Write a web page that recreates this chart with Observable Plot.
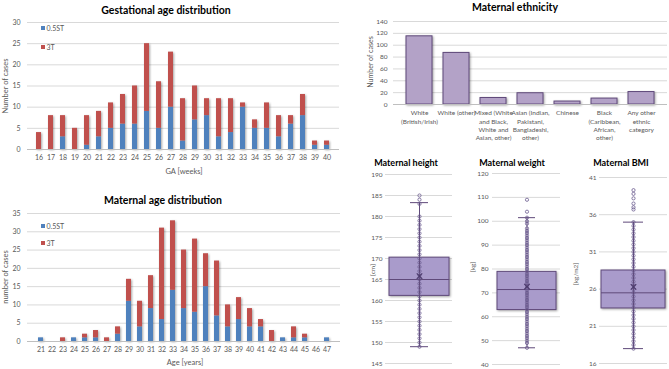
<!DOCTYPE html>
<html><head><meta charset="utf-8">
<script src="https://cdn.jsdelivr.net/npm/d3@7"></script>
<script src="https://cdn.jsdelivr.net/npm/@observablehq/plot@0.6"></script>
<style>
body{margin:0;background:#fff;}
#fig{position:relative;width:669px;height:369px;overflow:hidden;font-family:Lato,"Liberation Sans",sans-serif;color:#595959;background:#fff;}
#fig svg{position:absolute;}
.t{position:absolute;transform:translate(-50%,-50%);white-space:nowrap;line-height:1;}
.title{font-weight:bold;color:#000;}
.rot{transform:translate(-50%,-50%) rotate(-90deg);}
.sw{position:absolute;width:4px;height:4px;}
</style></head><body><div id="fig"></div><script>
// ---- gestational age (weeks) ----
const gaWeeks = [16,17,18,19,20,21,22,23,24,25,26,27,28,29,30,31,32,33,34,35,36,37,38,39,40];
const gaCount05 = [0,0,3,0,1,3,5,6,6,9,5,10,2,7,8,3,4,10,5,5,3,6,8,1,1];
const gaCount3  = [4,8,5,5,7,6,6,7,9,16,11,13,10,8,4,9,8,1,2,6,5,2,5,1,1];
const gaTicks = [0,5,10,15,20,25,30];

// ---- maternal age (years) ----
const ageYears = [21,22,23,24,25,26,27,28,29,30,31,32,33,34,35,36,37,38,39,40,41,42,43,44,45,46,47];
const ageCount05 = [1,0,0,1,1,1,0,2,11,4,9,6,14,9,8,15,7,4,6,4,4,0,1,1,1,0,1];
const ageCount3  = [0,0,1,0,1,2,1,2,6,7,9,25,19,16,20,9,15,6,6,5,2,3,0,3,1,0,0];
const ageTicks = [0,5,10,15,20,25,30,35];

const seriesNames = ["0.5ST", "3T"];
const seriesColors = ["#4F81BD", "#C0504D"];

// ---- maternal ethnicity ----
const ethnicGroups = [
  "White\n(British/Irish)",
  "White (other)",
  "Mixed (White\nand Black,\nWhite and\nAsian, other)",
  "Asian (Indian,\nPakistani,\nBangladeshi,\nother)",
  "Chinese",
  "Black\n(Caribbean,\nAfrican,\nother)",
  "Any other\nethnic\ncategory"
];
const ethnicCounts = [115, 87, 11, 19, 5, 10, 21];
const ethnicTicks = [0,20,40,60,80,100,120,140];

// ---- maternal height / weight / BMI summaries ----
const boxNames  = ["Maternal height", "Maternal weight", "Maternal BMI"];
const boxUnits  = ["[cm]", "[kg]", "[kg/m2]"];
const boxLow    = [149, 47, 18];
const boxQ1     = [161.1, 62.8, 23.4];
const boxMedian = [165, 71.4, 25.5];
const boxQ3     = [170.2, 78.8, 28.5];
const boxHigh   = [183.3, 101.5, 35];
const boxMean   = [165.8, 72.6, 26.3];
const heightTicks = [145,150,155,160,165,170,175,180,185,190];
const weightTicks = [40,50,60,70,80,90,100,110,120];
const bmiTicks = [16,21,26,31,36,41];
const heightValues = [149,150,151,152,153,154,155,156,157,158,159,160,161,162,163,164,165,166,167,168,169,170,171,172,173,174,175,176,177,178,179,180,183,184,185];
const weightValues = [47,49,50,51,52,53,54,55,56,57,58,59,60,61,62,63,64,65,66,67,68,69,70,71,72,73,74,75,76,77,78,79,80,81,82,83,84,85,86,87,88,89,90,91,92,93,94,95,96,97,99,100,101.5,104,109];
const bmiValues = [18,18.5,19,19.5,20,20.5,21,21.5,22,22.5,23,23.5,24,24.5,25,25.5,26,26.5,27,27.5,28,28.5,29,29.5,30,30.5,31,31.5,32,32.5,33,33.5,34,34.5,35,36.7,37,37.5,38.2,38.8,39.3];

const fig = document.getElementById("fig");
const FONT = "Lato, 'Liberation Sans', sans-serif";
const GRID = "#d9d9d9";
const TXT = "#595959";
const PURPLE = "#B3A2C7";
const PURPLE_DARK = "#5F497A";

function addText(txt, x, y, size, cls = "") {
  const d = document.createElement("div");
  d.className = "t " + cls;
  d.textContent = txt;
  d.style.left = x + "px";
  d.style.top = y + "px";
  d.style.fontSize = size + "px";
  fig.appendChild(d);
}
function place(svg, left, top) {
  svg.style.left = left + "px";
  svg.style.top = top + "px";
  fig.appendChild(svg);
}
function shadow(svg, label) {
  d3.select(svg).selectAll(`g[aria-label='${label}']`)
    .style("filter", "drop-shadow(1.2px 1.2px 0.8px rgba(0,0,0,0.35))");
}

// stacked 0.5ST / 3T bar chart
function stacked(cats, lo, hi, ticks, g) {
  const rows = [];
  cats.forEach((c, i) => {
    rows.push({cat: c, series: seriesNames[0], n: lo[i]});
    rows.push({cat: c, series: seriesNames[1], n: hi[i]});
  });
  const svg = Plot.plot({
    width: g.width, height: g.height,
    marginTop: g.mt, marginBottom: g.mb, marginLeft: g.ml, marginRight: g.mr,
    style: {fontFamily: FONT, fontSize: "7px", background: "transparent", overflow: "visible"},
    x: {type: "band", domain: cats, padding: 0.55, axis: null},
    y: {domain: [ticks[0], ticks[ticks.length - 1]], axis: null},
    color: {domain: seriesNames, range: seriesColors},
    marks: [
      Plot.gridY(ticks, {stroke: GRID, strokeOpacity: 1}),
      Plot.barY(rows.filter(d => d.n > 0), {x: "cat", y: "n", fill: "series"}),
      Plot.ruleY([0], {stroke: "#bfbfbf"}),
      Plot.axisX({tickSize: 0, tickPadding: 6, fill: TXT, fontSize: 7, label: null}),
      Plot.axisY(ticks, {tickSize: 0, tickPadding: 7, fill: TXT, fontSize: 7, label: null})
    ]
  });
  shadow(svg, "bar");
  return svg;
}

function legend(x, y1, y2) {
  [[y1, 0], [y2, 1]].forEach(([y, i]) => {
    const s = document.createElement("div");
    s.className = "sw";
    s.style.left = x + "px";
    s.style.top = (y - 2) + "px";
    s.style.background = seriesColors[i];
    fig.appendChild(s);
    const t = document.createElement("div");
    t.className = "t";
    t.textContent = seriesNames[i];
    t.style.fontSize = "7px";
    t.style.left = (x + 5.5) + "px";
    t.style.top = y + "px";
    t.style.transform = "translate(0,-50%)";
    fig.appendChild(t);
  });
}

// Gestational age panel
place(stacked(gaWeeks, gaCount05, gaCount3, gaTicks,
  {width: 340, height: 185, mt: 22, mb: 36, ml: 27, mr: 1}), 0, 0);
addText("Gestational age distribution", 166, 10, 10.5, "title");
addText("Number of cases", 6, 86, 7.5, "rot");
addText("GA [weeks]", 184, 172, 7.5);
legend(41, 28, 46.7);

// Maternal age panel
place(stacked(ageYears, ageCount05, ageCount3, ageTicks,
  {width: 340, height: 184, mt: 28, mb: 28, ml: 27, mr: 0}), 0, 185);
addText("Maternal age distribution", 163, 200, 10.5, "title");
addText("number of cases", 6, 277, 7.5, "rot");
addText("Age [years]", 185, 363, 7.5);
legend(41, 226, 243);

// Maternal ethnicity panel
{
  const rows = ethnicGroups.map((g, i) => ({group: g, n: ethnicCounts[i]}));
  const svg = Plot.plot({
    width: 329, height: 150,
    marginTop: 21, marginBottom: 46, marginLeft: 53, marginRight: 2,
    style: {fontFamily: FONT, fontSize: "6.5px", background: "transparent", overflow: "visible"},
    x: {type: "band", domain: ethnicGroups, padding: 0.31, axis: null},
    y: {domain: [0, 140], axis: null},
    marks: [
      Plot.gridY(ethnicTicks, {stroke: GRID, strokeOpacity: 1}),
      Plot.barY(rows, {x: "group", y: "n", fill: PURPLE, stroke: PURPLE_DARK, strokeWidth: 1}),
      Plot.ruleY([0], {stroke: "#bfbfbf"}),
      Plot.axisX({tickSize: 0, tickPadding: 5, fill: TXT, fontSize: 6.5, lineHeight: 1.28, label: null}),
      Plot.axisY(ethnicTicks, {tickSize: 0, tickPadding: 6, fill: TXT, fontSize: 6.5, label: null})
    ]
  });
  shadow(svg, "bar");
  place(svg, 340, 0);
  addText("Maternal ethnicity", 515, 7, 10.5, "title");
  addText("Number of cases", 370, 62, 7, "rot");
}

// Box plots for height, weight and BMI
function boxPanel(i, values, ticks, g) {
  const name = boxNames[i];
  const s = {name, low: boxLow[i], q1: boxQ1[i], med: boxMedian[i], q3: boxQ3[i], high: boxHigh[i], mean: boxMean[i]};
  const svg = Plot.plot({
    width: g.width, height: g.height,
    marginTop: g.mt, marginBottom: g.mb, marginLeft: g.ml, marginRight: g.mr,
    style: {fontFamily: FONT, fontSize: "6.5px", background: "transparent", overflow: "visible"},
    x: {type: "band", domain: [name], padding: g.pad, axis: null},
    y: {domain: [ticks[0], ticks[ticks.length - 1]], axis: null},
    marks: [
      Plot.gridY(ticks, {stroke: GRID, strokeOpacity: 1}),
      Plot.barY([s], {x: "name", y1: "q1", y2: "q3", fill: "#A99BCB", stroke: PURPLE_DARK, strokeWidth: 1}),
      Plot.tickY([s], {x: "name", y: "med", stroke: PURPLE_DARK, strokeWidth: 1}),
      Plot.ruleX([s], {x: "name", y1: "low", y2: "high", stroke: PURPLE_DARK, strokeWidth: 1}),
      Plot.tickY([s], {x: "name", y: "low", stroke: PURPLE_DARK, strokeWidth: 1, insetLeft: g.cap, insetRight: g.cap}),
      Plot.tickY([s], {x: "name", y: "high", stroke: PURPLE_DARK, strokeWidth: 1, insetLeft: g.cap, insetRight: g.cap}),
      Plot.dot(values, {x: () => name, y: d => d, r: 1.6, stroke: "#6A5A8E", strokeWidth: 0.8, fill: "none"}),
      Plot.dot([s], {x: "name", y: "mean", symbol: "times", r: 2.6, stroke: "#4B3A6B", strokeWidth: 1.2}),
      Plot.axisY(ticks, {tickSize: 0, tickPadding: g.tp, fill: TXT, fontSize: 6.5, label: null})
    ]
  });
  shadow(svg, "bar");
  return svg;
}

place(boxPanel(0, heightValues, heightTicks,
  {width: 105, height: 204, mt: 9, mb: 6, ml: 35, mr: 3, pad: 0.055, cap: 21, tp: 3}), 350, 165);
addText(boxNames[0], 406, 162, 9, "title");
addText(boxUnits[0], 373, 270, 6.5, "rot");

place(boxPanel(1, weightValues, weightTicks,
  {width: 105, height: 204, mt: 8, mb: 5, ml: 32, mr: 5, pad: 0.07, cap: 21, tp: 4}), 460, 165);
addText(boxNames[1], 512, 162, 9, "title");
addText(boxUnits[1], 473, 267, 6.5, "rot");

place(boxPanel(2, bmiValues, bmiTicks,
  {width: 104, height: 204, mt: 12, mb: 6, ml: 34, mr: 2, pad: 0.03, cap: 22, tp: 3}), 565, 165);
addText(boxNames[2], 621, 162, 9, "title");
addText(boxUnits[2], 576, 274, 6.5, "rot");
</script></body></html>
